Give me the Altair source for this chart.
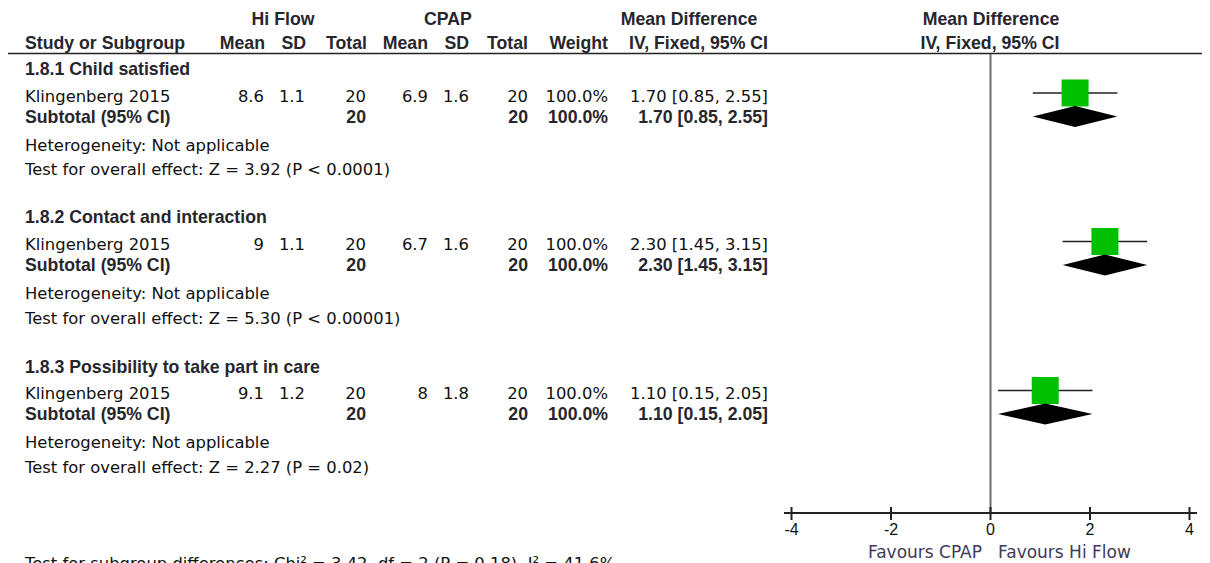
import altair as alt
import pandas as pd

# ---------------- data ----------------
subgroups = ["1.8.1 Child satisfied", "1.8.2 Contact and interaction",
             "1.8.3 Possibility to take part in care"]
studies = ["Klingenberg 2015", "Klingenberg 2015", "Klingenberg 2015"]
hf_mean = [8.6, 9, 9.1]
hf_sd = [1.1, 1.1, 1.2]
hf_total = [20, 20, 20]
cp_mean = [6.9, 6.7, 8]
cp_sd = [1.6, 1.6, 1.8]
cp_total = [20, 20, 20]
weights = [100.0, 100.0, 100.0]
md = [1.70, 2.30, 1.10]
ci_lo = [0.85, 1.45, 0.15]
ci_hi = [2.55, 3.15, 2.05]
heterogeneity = ["Heterogeneity: Not applicable"] * 3
overall_z = ["3.92", "5.30", "2.27"]
overall_p = ["P < 0.0001", "P < 0.00001", "P = 0.02"]
subgroup_test = "Test for subgroup differences: Chi² = 3.42, df = 2 (P = 0.18), I² = 41.6%"
axis_ticks = [-4, -2, 0, 2, 4]
favours_left = "Favours CPAP"
favours_right = "Favours Hi Flow"

# ---------------- layout (page pixels) ----------------
OFF = 8
W, H = 1194, 563
X0_PX = 990.5 - OFF       # where 0 sits
PPU = 49.75               # pixels per unit
forest_x = alt.Scale(domain=[-X0_PX / PPU, (W - X0_PX) / PPU], range=[0, W], nice=False, zero=False)
pix_x = alt.Scale(domain=[0, W], range=[0, W], nice=False, zero=False)
pix_y = alt.Scale(domain=[0, H], range=[0, H], nice=False, zero=False)

def P(v):
    return v - OFF

heading_y = [75, 223, 372.5]
study_y = [101.5, 250, 399]
subtotal_y = [122.5, 271, 420]
het_y = [150.5, 299, 448]
test_y = [175, 323.5, 472.5]
LEFT = 25
COLS = [264, 305, 366, 428, 469, 528, 608, 768]

rows = []

def add(text, x, y, style, align):
    rows.append(dict(text=text, x=P(x), y=P(y), style=style, align=align))

# headers
add("Hi Flow", 283, 25, "bold", "center")
add("CPAP", 448, 25, "bold", "center")
add("Mean Difference", 689, 25, "bold", "center")
add("Mean Difference", 991, 25, "bold", "center")
add("Study or Subgroup", LEFT, 49, "bold", "left")
for lab, cx in zip(["Mean", "SD", "Total", "Mean", "SD", "Total", "Weight", "IV, Fixed, 95% CI"],
                   [265, 306, 367, 428, 469, 528, 608, 768]):
    add(lab, cx, 49, "bold", "right")
add("IV, Fixed, 95% CI", 990, 49, "bold", "center")

for i in range(3):
    add(subgroups[i], LEFT, heading_y[i], "bold", "left")
    add(studies[i], LEFT, study_y[i], "reg", "left")
    ci_txt = f"{md[i]:.2f} [{ci_lo[i]:.2f}, {ci_hi[i]:.2f}]"
    vals = [f"{hf_mean[i]:g}", f"{hf_sd[i]:g}", str(hf_total[i]),
            f"{cp_mean[i]:g}", f"{cp_sd[i]:g}", str(cp_total[i]),
            f"{weights[i]:.1f}%", ci_txt]
    for v, cx in zip(vals, COLS):
        add(v, cx, study_y[i], "reg", "right")
    add("Subtotal (95% CI)", LEFT, subtotal_y[i], "bold", "left")
    add(str(hf_total[i]), COLS[2], subtotal_y[i], "bold", "right")
    add(str(cp_total[i]), COLS[5], subtotal_y[i], "bold", "right")
    add(f"{weights[i]:.1f}%", COLS[6], subtotal_y[i], "bold", "right")
    add(ci_txt, COLS[7], subtotal_y[i], "bold", "right")
    add(heterogeneity[i], LEFT, het_y[i], "reg", "left")
    add(f"Test for overall effect: Z = {overall_z[i]} ({overall_p[i]})", LEFT, test_y[i], "reg", "left")

add(subgroup_test, LEFT, 569, "reg", "left")
add(favours_left, 982, 558, "fav", "right")
add(favours_right, 998, 558, "fav", "left")

text_df = pd.DataFrame(rows)

STYLES = {
    "bold": dict(font="Liberation Sans", fontSize=17.7, fontWeight="bold", color="#26262c"),
    "reg": dict(font="DejaVu Sans", fontSize=16.4, fontWeight="normal", color="#111111"),
    "fav": dict(font="DejaVu Sans", fontSize=17, fontWeight="normal", color="#3f3a5a"),
}

layers = []

one = pd.DataFrame({"a": [0]})
# header rule
layers.append(alt.Chart(one).mark_rule(color="#222222", strokeWidth=1.6).encode(
    x=alt.value(0), x2=alt.value(W), y=alt.value(P(53.5))))
# zero line
layers.append(alt.Chart(pd.DataFrame({"x": [0]})).mark_rule(color="#6e6e6e", strokeWidth=2).encode(
    x=alt.X("x:Q", scale=forest_x, axis=None), y=alt.value(P(54)), y2=alt.value(P(513))))
# axis line
layers.append(alt.Chart(one).mark_rule(color="#222222", strokeWidth=2).encode(
    x=alt.value(P(784)), x2=alt.value(P(1197)), y=alt.value(P(513))))
tick_df = pd.DataFrame({"t": axis_ticks, "lab": [str(t) for t in axis_ticks]})
layers.append(alt.Chart(tick_df).mark_rule(color="#222222", strokeWidth=2).encode(
    x=alt.X("t:Q", scale=forest_x, axis=None), y=alt.value(P(507)), y2=alt.value(P(520))))
layers.append(alt.Chart(tick_df).mark_text(font="Liberation Sans", fontSize=16, color="#111111",
                                           baseline="alphabetic", align="center").encode(
    x=alt.X("t:Q", scale=forest_x, axis=None), y=alt.value(P(535)), text="lab:N"))

# forest marks
SQ_OFF = 8.5
DIA_OFF = 6
DIA_H = 10.5
f_df = pd.DataFrame({"md": md, "lo": ci_lo, "hi": ci_hi,
                     "ys": [P(v - SQ_OFF) for v in study_y]})
layers.append(alt.Chart(f_df).mark_rule(color="#222222", strokeWidth=1.6).encode(
    x=alt.X("lo:Q", scale=forest_x, axis=None), x2="hi:Q",
    y=alt.Y("ys:Q", scale=pix_y, axis=None)))
layers.append(alt.Chart(f_df).mark_square(size=27 * 27, color="#00c000", opacity=1, filled=True).encode(
    x=alt.X("md:Q", scale=forest_x, axis=None),
    y=alt.Y("ys:Q", scale=pix_y, axis=None)))

dia_rows = []
for i in range(3):
    yc = P(subtotal_y[i] - DIA_OFF)
    dia_rows += [dict(g=i, x=ci_lo[i], y=yc, y2=yc),
                 dict(g=i, x=md[i], y=yc - DIA_H, y2=yc + DIA_H),
                 dict(g=i, x=ci_hi[i], y=yc, y2=yc)]
dia_df = pd.DataFrame(dia_rows)
layers.append(alt.Chart(dia_df).mark_area(color="black", opacity=1, orient="vertical").encode(
    x=alt.X("x:Q", scale=forest_x, axis=None),
    y=alt.Y("y:Q", scale=pix_y, axis=None), y2="y2:Q",
    detail="g:N"))

# text layers
for (style, align), sub in text_df.groupby(["style", "align"]):
    layers.append(alt.Chart(sub).mark_text(align=align, baseline="alphabetic", **STYLES[style]).encode(
        x=alt.X("x:Q", scale=pix_x, axis=None),
        y=alt.Y("y:Q", scale=pix_y, axis=None),
        text="text:N"))

chart = alt.layer(*layers).resolve_scale(x="independent").properties(
    width=W, height=H, padding=0,
    autosize=alt.AutoSizeParams(type="none"),
    background="white",
).configure_view(stroke=None)

chart.save("out.html", embed_options={"renderer": "svg", "actions": False})
